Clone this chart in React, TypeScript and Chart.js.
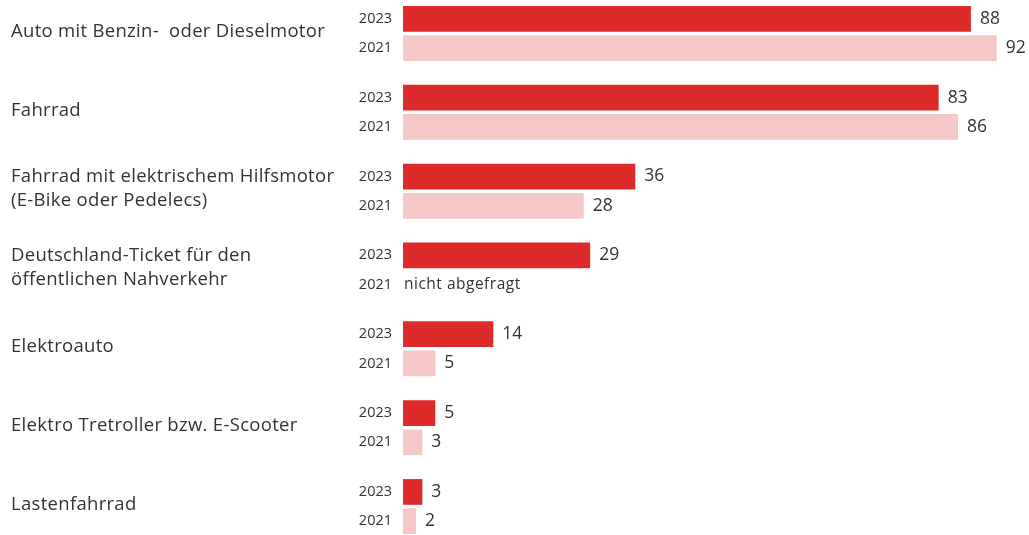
import React, { useEffect, useRef } from "react";
import { Chart, registerables } from "chart.js";

Chart.register(...registerables);

const categories: string[][] = [
  ["Auto mit Benzin-  oder Dieselmotor"],
  ["Fahrrad"],
  ["Fahrrad mit elektrischem Hilfsmotor", "(E-Bike oder Pedelecs)"],
  ["Deutschland-Ticket für den", "öffentlichen Nahverkehr"],
  ["Elektroauto"],
  ["Elektro Tretroller bzw. E-Scooter"],
  ["Lastenfahrrad"],
];
const seriesYears = ["2023", "2021"];
const values2023: (number | null)[] = [88, 83, 36, 29, 14, 5, 3];
const values2021: (number | null)[] = [92, 86, 28, null, 5, 3, 2];
const missingLabel = "nicht abgefragt";

const RED = "#DD2A2B";
const PINK = "#F5C7C7";
const TEXT = "#333333";
const FONT = "'Open Sans', Lato, sans-serif";

const labelPlugin = {
  id: "customLabels",
  afterDatasetsDraw(chart: any) {
    const ctx = chart.ctx;
    const yScale = chart.scales.y;
    const area = chart.chartArea;
    ctx.save();
    ctx.fillStyle = TEXT;
    ctx.textBaseline = "middle";
    // category labels
    ctx.font = `18.5px ${FONT}`;
    ctx.letterSpacing = "0.3px";
    ctx.textAlign = "left";
    categories.forEach((lines, i) => {
      const cy = yScale.getPixelForValue(i) - 2;
      const lh = 24;
      lines.forEach((ln, k) => {
        const y = cy + (k - (lines.length - 1) / 2) * lh;
        ctx.fillText(ln, 11, y);
      });
    });
    const metas = [chart.getDatasetMeta(0), chart.getDatasetMeta(1)];
    const datas = [values2023, values2021];
    const offsets: number[] = [];
    metas.forEach((m, d) => {
      const el = m.data[0];
      offsets[d] = el.y - yScale.getPixelForValue(0);
    });
    categories.forEach((_, i) => {
      metas.forEach((m, d) => {
        const el = m.data[i];
        let y = el && isFinite(el.y) ? el.y : yScale.getPixelForValue(i) + offsets[d];
        // year label
        ctx.font = `14.5px ${FONT}`;
        ctx.letterSpacing = "0px";
        ctx.textAlign = "right";
        ctx.fillText(seriesYears[d], 392, y);
        const v = datas[d][i];
        if (v === null || v === undefined) {
          ctx.font = `15.5px ${FONT}`;
          ctx.letterSpacing = "0.5px";
          ctx.textAlign = "left";
          ctx.fillText(missingLabel, area.left + 1, y);
        } else {
          ctx.font = `17.5px ${FONT}`;
          ctx.letterSpacing = "0px";
          ctx.textAlign = "left";
          ctx.fillText(String(v), el.x + 9, y);
        }
      });
    });
    ctx.restore();
  },
};

export default function App() {
  const ref = useRef<HTMLCanvasElement | null>(null);
  useEffect(() => {
    if (!ref.current) return;
    const chart = new Chart(ref.current, {
      type: "bar",
      data: {
        labels: categories.map((c) => c.join(" ")),
        datasets: [
          {
            label: seriesYears[0],
            data: values2023,
            backgroundColor: RED,
            categoryPercentage: 0.742,
            barPercentage: 0.88,
          },
          {
            label: seriesYears[1],
            data: values2021,
            backgroundColor: PINK,
            categoryPercentage: 0.742,
            barPercentage: 0.88,
          },
        ],
      },
      options: {
        indexAxis: "y",
        animation: false,
        responsive: true,
        maintainAspectRatio: false,
        layout: { padding: { left: 403, right: 0, top: 0, bottom: 0 } },
        scales: {
          x: { display: false, min: 0, max: 97 },
          y: { display: false },
        },
        plugins: {
          legend: { display: false },
          tooltip: { enabled: false },
        },
      },
      plugins: [labelPlugin],
    } as any);
    let alive = true;
    if ((document as any).fonts) {
      (document as any).fonts.load(`17px 'Open Sans'`).then(() => {
        if (alive) chart.draw();
      });
    }
    return () => {
      alive = false;
      chart.destroy();
    };
  }, []);
  return (
    <div
      style={{
        position: "fixed",
        left: 0,
        top: -6,
        width: 1029,
        height: 552,
        background: "#fff",
      }}
    >
      <canvas ref={ref} />
    </div>
  );
}
